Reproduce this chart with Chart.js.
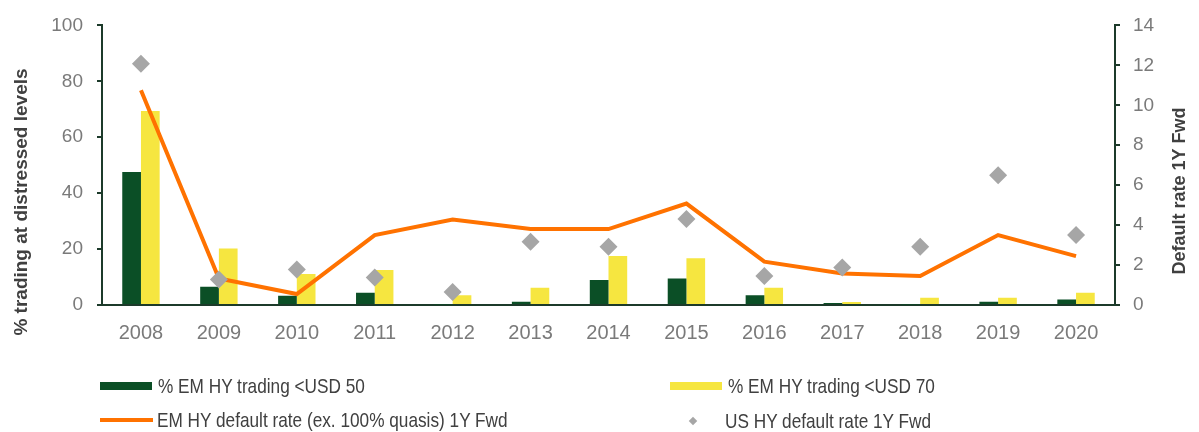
<!DOCTYPE html>
<html>
<head>
<meta charset="utf-8">
<script src="https://cdn.jsdelivr.net/npm/chart.js@4.4.0/dist/chart.umd.min.js"></script>
<style>
    html, body { margin: 0; padding: 0; background: #fff; }
    #wrap { position: relative; width: 1199px; height: 432px; }
    #legenda {
        position: absolute; left: 0; top: 0; width: 1199px; height: 432px; pointer-events: none;
        font-family: 'Liberation Sans', Arial, sans-serif; font-size: 21px; color: #404040;
    }
    .item { position: absolute; display: flex; align-items: center; height: 24px; white-space: nowrap; }
    .item .txt { display: inline-block; transform: scaleX(0.82); transform-origin: left center; }
</style>
</head>
<body>
<div id="wrap">
    <canvas id="grafico" width="1199" height="432"></canvas>
    <div id="legenda"></div>
</div>
<script>
// Categorias (anos)
const anos = ['2008', '2009', '2010', '2011', '2012', '2013', '2014', '2015', '2016', '2017', '2018', '2019', '2020'];

// % EM HY trading abaixo de USD 50 e USD 70 (eixo esquerdo)
const emhyAbaixo50 = [47.6, 6.5, 3.3, 4.4, 0.2, 1.2, 8.9, 9.5, 3.5, 0.7, 0.2, 1.2, 2.0];
const emhyAbaixo70 = [69.4, 20.2, 11.1, 12.5, 3.5, 6.2, 17.5, 16.7, 6.2, 1.1, 2.6, 2.6, 4.4];

// Taxas de default 1Y Fwd (eixo direito)
const emhyDefault = [10.75, 1.33, 0.55, 3.5, 4.28, 3.8, 3.8, 5.08, 2.17, 1.58, 1.45, 3.5, 2.45];
const usDefault = [12.08, 1.28, 1.78, 1.38, 0.65, 3.17, 2.92, 4.3, 1.45, 1.88, 2.92, 6.5, 3.5];

// Textos
const nomesSeries = [
    '% EM HY trading <USD 50',
    '% EM HY trading <USD 70',
    'EM HY default rate (ex. 100% quasis) 1Y Fwd',
    'US HY default rate 1Y Fwd'
];
const tituloEsq = '% trading at distressed levels';
const tituloDir = 'Default rate 1Y Fwd';

const corVerde = '#0B4F26';
const corAmarelo = '#F6E640';
const corLaranja = '#FF7200';
const corCinza = '#A6A6A6';
const corEixo = '#1C3A2A';
const corTicks = '#7A7A7A';
const fonteTicks = "'Liberation Sans', Arial, sans-serif";

// Titulos dos eixos desenhados à mão (o da direita lê de baixo para cima)
const titulosEixos = {
    id: 'titulosEixos',
    afterDraw(chart) {
        const ctx = chart.ctx;
        ctx.save();
        ctx.fillStyle = '#404040';
        ctx.textAlign = 'center';
        ctx.textBaseline = 'middle';
        ctx.font = "bold 19px 'Liberation Sans', Arial, sans-serif";
        ctx.translate(22, 202);
        ctx.rotate(-Math.PI / 2);
        ctx.fillText(tituloEsq, 0, 0);
        ctx.restore();

        ctx.save();
        ctx.fillStyle = '#404040';
        ctx.textAlign = 'center';
        ctx.textBaseline = 'middle';
        ctx.font = "bold 18px 'Liberation Sans', Arial, sans-serif";
        ctx.translate(1180, 191);
        ctx.rotate(-Math.PI / 2);
        ctx.fillText(tituloDir, 0, 0);
        ctx.restore();
    }
};

const ctxGrafico = document.getElementById('grafico').getContext('2d');
const meuGrafico = new Chart(ctxGrafico, {
    type: 'bar',
    data: {
        labels: anos,
        datasets: [
            {
                label: nomesSeries[0],
                data: emhyAbaixo50,
                backgroundColor: corVerde,
                yAxisID: 'y',
                order: 3,
                categoryPercentage: 0.48,
                barPercentage: 1.0,
            },
            {
                label: nomesSeries[1],
                data: emhyAbaixo70,
                backgroundColor: corAmarelo,
                yAxisID: 'y',
                order: 3,
                categoryPercentage: 0.48,
                barPercentage: 1.0,
            },
            {
                type: 'line',
                label: nomesSeries[2],
                data: emhyDefault,
                borderColor: corLaranja,
                backgroundColor: corLaranja,
                borderWidth: 4,
                pointRadius: 0,
                tension: 0,
                yAxisID: 'y1',
                order: 2,
            },
            {
                type: 'line',
                label: nomesSeries[3],
                data: usDefault,
                showLine: false,
                pointStyle: 'rectRot',
                pointRadius: 9,
                pointBorderWidth: 0,
                pointBackgroundColor: corCinza,
                pointBorderColor: corCinza,
                yAxisID: 'y1',
                order: 1,
            }
        ]
    },
    options: {
        responsive: false,
        devicePixelRatio: 1,
        animation: false,
        layout: { padding: { top: 24, left: 0, right: 0, bottom: 0 } },
        scales: {
            x: {
                grid: { display: false, drawTicks: false },
                border: { display: true, color: corEixo, width: 2 },
                ticks: { color: corTicks, font: { family: fonteTicks, size: 20 }, padding: 16 },
                afterFit: (scale) => { scale.height = 127; }
            },
            y: {
                position: 'left',
                min: 0,
                max: 100,
                ticks: { stepSize: 20, color: corTicks, font: { family: fonteTicks, size: 19 }, padding: 14 },
                grid: { drawOnChartArea: false, drawTicks: true, tickLength: 5, color: corEixo, lineWidth: 2 },
                border: { display: true, color: corEixo, width: 2 },
                afterFit: (scale) => { scale.width = 102; }
            },
            y1: {
                position: 'right',
                min: 0,
                max: 14,
                ticks: { stepSize: 2, color: corTicks, font: { family: fonteTicks, size: 19 }, padding: 13 },
                grid: { drawOnChartArea: false, drawTicks: true, tickLength: 5, color: corEixo, lineWidth: 2 },
                border: { display: true, color: corEixo, width: 2 },
                afterFit: (scale) => { scale.width = 84; }
            }
        },
        plugins: {
            legend: { display: false },
            tooltip: { enabled: false },
        },
    },
    plugins: [titulosEixos]
});

// Legenda em HTML: duas linhas, duas colunas
const posLegenda = [
    { left: 100, top: 374 },
    { left: 670, top: 374 },
    { left: 100, top: 408 },
    { left: 690, top: 409 }
];
const legenda = document.getElementById('legenda');
meuGrafico.data.datasets.forEach((ds, i) => {
    const item = document.createElement('div');
    item.className = 'item';
    item.style.left = posLegenda[i].left + 'px';
    item.style.top = posLegenda[i].top + 'px';
    const marca = document.createElement('span');
    marca.style.display = 'inline-block';
    if (i < 2) {
        marca.style.width = '52px';
        marca.style.height = '8px';
        marca.style.background = ds.backgroundColor;
        marca.style.marginRight = '6px';
    } else if (i === 2) {
        marca.style.width = '53px';
        marca.style.height = '4px';
        marca.style.background = ds.borderColor;
        marca.style.marginRight = '4px';
    } else {
        marca.style.width = '6px';
        marca.style.height = '6px';
        marca.style.background = ds.pointBackgroundColor;
        marca.style.transform = 'rotate(45deg)';
        marca.style.marginRight = '29px';
    }
    const texto = document.createElement('span');
    texto.className = 'txt';
    texto.textContent = ds.label;
    item.appendChild(marca);
    item.appendChild(texto);
    legenda.appendChild(item);
});
</script>
</body>
</html>
